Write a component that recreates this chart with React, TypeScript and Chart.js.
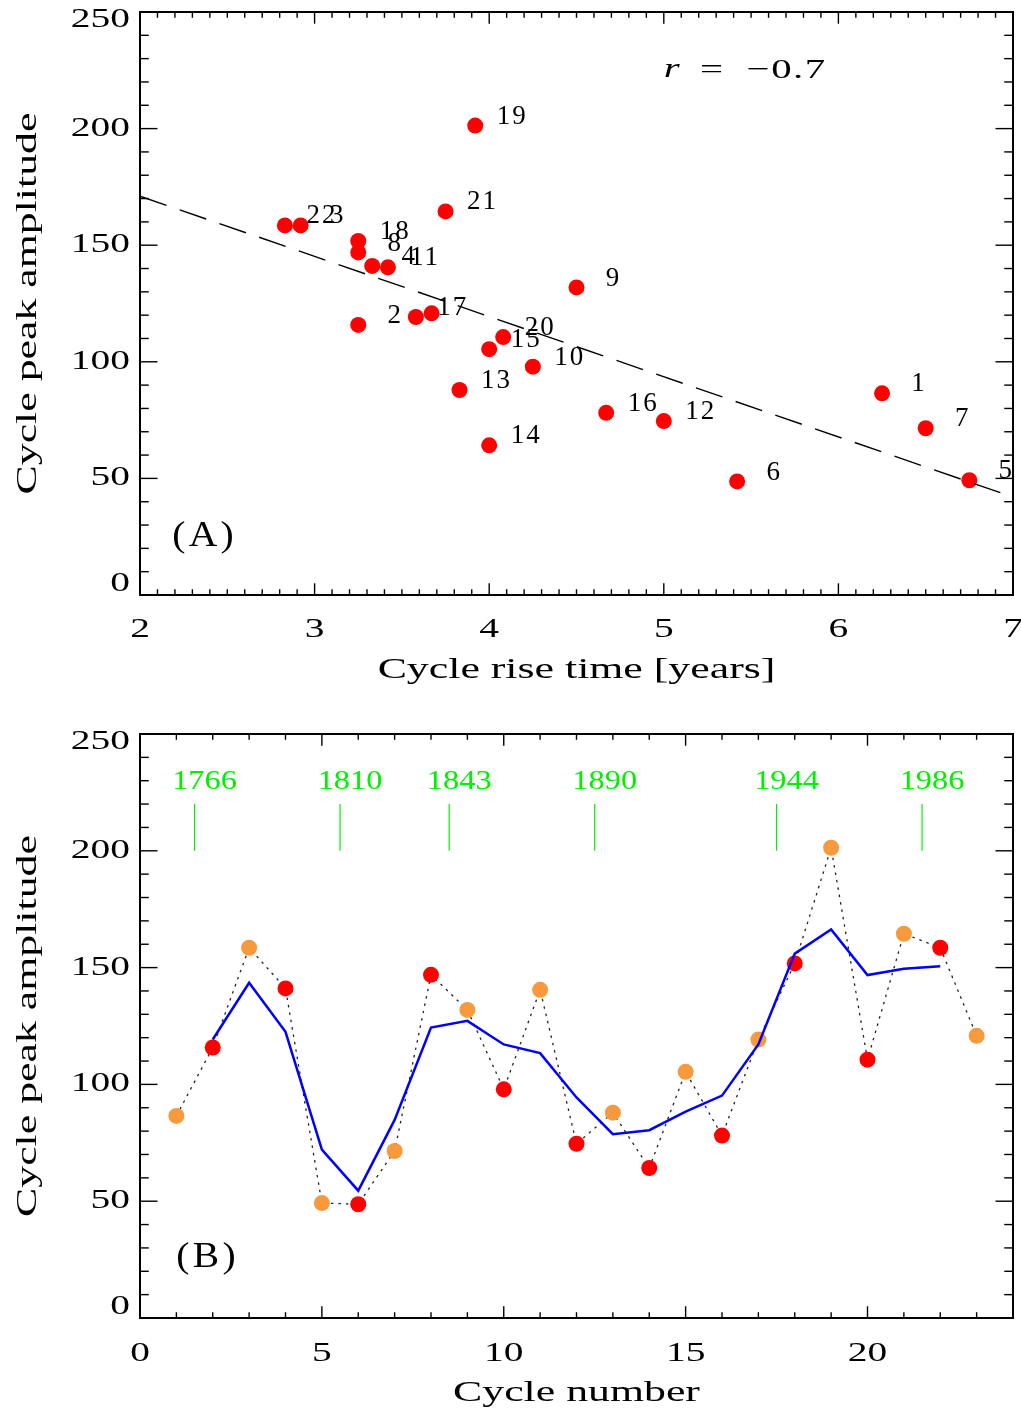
import React, { useEffect, useRef } from 'react';
import { Chart, registerables } from 'chart.js';

Chart.register(...registerables);

// ---------- data ----------
const cycles = [1, 2, 3, 4, 5, 6, 7, 8, 9, 10, 11, 12, 13, 14, 15, 16, 17, 18, 19, 20, 21, 22, 23];
const riseTime = [6.25, 3.25, 2.92, 3.33, 6.75, 5.42, 6.5, 3.25, 4.5, 4.25, 3.42, 5.0, 3.83, 4.0, 4.0, 4.67, 3.58, 3.25, 3.92, 4.08, 3.75, 2.83, 3.67];
const peakAmplitude = [86.5, 115.8, 158.5, 141.1, 49.2, 48.7, 71.5, 146.9, 131.9, 97.9, 140.5, 74.6, 87.9, 64.2, 105.4, 78.1, 119.2, 151.8, 201.3, 110.6, 164.5, 158.5, 120.8];
const pointLabels = ['1', '2', '3', '4', '5', '6', '7', '8', '9', '10', '11', '12', '13', '14', '15', '16', '17', '18', '19', '20', '21', '22', ''];
const fitLineX = [2, 7];
const fitLineY = [171, 42];
const correlationText = '−0.7';
const smoothCycles = [2, 3, 4, 5, 6, 7, 8, 9, 10, 11, 12, 13, 14, 15, 16, 17, 18, 19, 20, 21, 22];
const smoothAmplitude = [119.2, 143.5, 122.5, 72.1, 54.5, 84.8, 124.3, 127.2, 117.1, 113.4, 94.4, 78.7, 80.4, 88.3, 95.2, 117.1, 156.0, 166.3, 146.8, 149.5, 150.6];
const markerCycles = [1.5, 5.5, 8.5, 12.5, 17.5, 21.5];
const markerYears = ['1766', '1810', '1843', '1890', '1944', '1986'];
const topXTicks = [2, 3, 4, 5, 6, 7];
const yTicks = [0, 50, 100, 150, 200, 250];
const bottomXTicks = [0, 5, 10, 15, 20];

// ---------- styles ----------
const FONT = "'Liberation Serif', 'Times New Roman', serif";
const RED = '#ff0000';
const ORANGE = '#f7993d';
const BLUE = '#0000ff';
const GREEN = '#00f000';
const AXIS_STRETCH = 1.46;

// Horizontally stretched text (the reference uses wide glyphs)
const stretchPlugin = {
  id: 'stretch',
  beforeInit(chart: any) {
    const ctx = chart.ctx;
    if (!ctx.__origFillText) {
      const orig = ctx.fillText;
      ctx.__origFillText = orig;
      ctx.__sx = 1;
      ctx.fillText = function (text: string, x: number, y: number) {
        const sx = this.__sx || 1;
        this.save();
        this.translate(x, y);
        this.scale(sx, 1);
        orig.call(this, text, 0, 0);
        this.restore();
      };
    }
  },
  beforeDraw(chart: any) {
    const ctx = chart.ctx;
    ctx.__sx = AXIS_STRETCH;
    ctx.letterSpacing = '0px';
    // nudge the extreme y labels inside the frame, as in the reference
    const ys = chart.scales.y;
    const items = ys.getLabelItems(chart.chartArea);
    items.forEach((it: any) => {
      const tr = (it.options && it.options.translation) || it.translation;
      if (!tr) return;
      if (it.label === '250') tr[1] += 8;
      if (it.label === '0') tr[1] -= 11;
    });
  },
};

function framePlugin(xMinor: number, xMajor: number, yMinor: number, yMajor: number) {
  return {
    id: 'frame',
    afterDraw(chart: any) {
      const { ctx, chartArea: a, scales } = chart;
      const x = scales.x;
      const y = scales.y;
      ctx.save();
      ctx.strokeStyle = '#000';
      ctx.lineWidth = 1.4;
      const seg = (x1: number, y1: number, x2: number, y2: number) => {
        ctx.beginPath(); ctx.moveTo(x1, y1); ctx.lineTo(x2, y2); ctx.stroke();
      };
      const nx = Math.round((x.max - x.min) / xMinor);
      for (let i = 0; i <= nx; i++) {
        const v = x.min + i * xMinor;
        const r = v / xMajor;
        const major = Math.abs(r - Math.round(r)) < 1e-6;
        const len = major ? 11.7 : 5.8;
        const px = x.getPixelForValue(v);
        seg(px, a.bottom, px, a.bottom - len);
        seg(px, a.top, px, a.top + len);
      }
      const ny = Math.round((y.max - y.min) / yMinor);
      for (let i = 0; i <= ny; i++) {
        const v = y.min + i * yMinor;
        const r = v / yMajor;
        const major = Math.abs(r - Math.round(r)) < 1e-6;
        const len = major ? 17.5 : 8.75;
        const py = y.getPixelForValue(v);
        seg(a.left, py, a.left + len, py);
        seg(a.right, py, a.right - len, py);
      }
      ctx.lineWidth = 2;
      ctx.strokeRect(a.left, a.top, a.right - a.left, a.bottom - a.top);
      ctx.restore();
    },
  };
}

const topAnnotations = {
  id: 'topAnnotations',
  afterDatasetsDraw(chart: any) {
    const { ctx, scales } = chart;
    const x = scales.x;
    const y = scales.y;
    ctx.save();
    ctx.fillStyle = '#000';
    ctx.textBaseline = 'middle';
    ctx.textAlign = 'center';
    ctx.font = `27px ${FONT}`;
    ctx.letterSpacing = '2px';
    ctx.__sx = 1;
    for (let i = 0; i < cycles.length; i++) {
      if (!pointLabels[i]) continue;
      const px = x.getPixelForValue(riseTime[i]);
      const py = y.getPixelForValue(peakAmplitude[i]);
      ctx.fillText(pointLabels[i], px + 37, py - 9);
    }
    // r = -0.7
    const ax = x.getPixelForValue(5.4);
    const ay = y.getPixelForValue(225);
    ctx.__sx = AXIS_STRETCH;
    ctx.letterSpacing = '0px';
    ctx.textAlign = 'left';
    ctx.font = `italic 28px ${FONT}`;
    ctx.fillText('r', ax - 70, ay - 1);
    ctx.font = `28px ${FONT}`;
    ctx.textAlign = 'center';
    ctx.fillText('=', ax - 22, ay);
    ctx.textAlign = 'left';
    ctx.letterSpacing = '1px';
    ctx.fillText(correlationText, ax + 13, ay);
    // (A)
    ctx.__sx = 1.1;
    ctx.font = `36px ${FONT}`;
    ctx.letterSpacing = '3px';
    ctx.textAlign = 'center';
    ctx.fillText('(A)', x.getPixelForValue(2.37), y.getPixelForValue(24.9));
    ctx.__sx = AXIS_STRETCH;
    ctx.letterSpacing = '0px';
    ctx.restore();
  },
};

const bottomAnnotations = {
  id: 'bottomAnnotations',
  afterDatasetsDraw(chart: any) {
    const { ctx, scales } = chart;
    const x = scales.x;
    const y = scales.y;
    ctx.save();
    ctx.strokeStyle = GREEN;
    ctx.fillStyle = GREEN;
    ctx.lineWidth = 1.2;
    ctx.textAlign = 'center';
    ctx.textBaseline = 'middle';
    ctx.font = `27px ${FONT}`;
    ctx.letterSpacing = '0px';
    ctx.__sx = 1.2;
    for (let i = 0; i < markerCycles.length; i++) {
      const px = x.getPixelForValue(markerCycles[i]);
      ctx.beginPath();
      ctx.moveTo(px, y.getPixelForValue(220));
      ctx.lineTo(px, y.getPixelForValue(200));
      ctx.stroke();
      ctx.fillText(markerYears[i], px + 10, y.getPixelForValue(229.5));
    }
    ctx.fillStyle = '#000';
    ctx.font = `36px ${FONT}`;
    ctx.letterSpacing = '3px';
    ctx.__sx = 1.1;
    ctx.fillText('(B)', x.getPixelForValue(1.86), y.getPixelForValue(25.7));
    ctx.__sx = AXIS_STRETCH;
    ctx.letterSpacing = '0px';
    ctx.restore();
  },
};

function axisOptions(min: number, max: number, tickValues: number[], title: string, isX: boolean, fitSize: number, labelPad: number, titlePad: any) {
  return {
    type: 'linear',
    position: isX ? 'bottom' : 'left',
    min,
    max,
    afterBuildTicks: (scale: any) => {
      scale.ticks = tickValues.map((v) => ({ value: v }));
    },
    afterFit: (scale: any) => {
      if (isX) scale.height = fitSize; else scale.width = fitSize;
      scale.paddingLeft = 0;
      scale.paddingRight = 0;
      scale.paddingTop = 0;
      scale.paddingBottom = 0;
    },
    grid: { display: false, drawTicks: false },
    border: { display: false },
    ticks: {
      color: '#000',
      font: { family: FONT, size: 27 },
      padding: labelPad,
      maxRotation: 0,
      autoSkip: false,
      callback: (v: any) => String(v),
    },
    title: {
      display: true,
      text: title,
      color: '#000',
      font: { family: FONT, size: 30 },
      padding: titlePad,
    },
  };
}

export default function App() {
  const topRef = useRef<HTMLCanvasElement>(null);
  const botRef = useRef<HTMLCanvasElement>(null);

  useEffect(() => {
    const topChart = new Chart(topRef.current as HTMLCanvasElement, {
      type: 'scatter',
      data: {
        datasets: [
          {
            data: fitLineX.map((v, i) => ({ x: v, y: fitLineY[i] })),
            showLine: true,
            borderColor: '#000',
            borderWidth: 1.4,
            borderDash: [28, 14],
            pointRadius: 0,
            fill: false,
          },
          {
            data: riseTime.map((v, i) => ({ x: v, y: peakAmplitude[i] })),
            pointRadius: 8,
            pointBackgroundColor: RED,
            pointBorderWidth: 0,
            borderWidth: 0,
            showLine: false,
          },
        ],
      } as any,
      options: {
        responsive: false,
        animation: false,
        events: [],
        layout: { padding: { left: 0, right: 6, top: 12, bottom: 0 } },
        plugins: { legend: { display: false }, tooltip: { enabled: false } },
        scales: {
          x: axisOptions(2, 7, topXTicks, 'Cycle rise time [years]', true, 111, 19, { top: 0, bottom: 18 }),
          y: axisOptions(0, 250, yTicks, 'Cycle peak amplitude', false, 140, 10, { top: 10, bottom: 0 }),
        },
      } as any,
      plugins: [stretchPlugin, topAnnotations, framePlugin(0.1, 1, 10, 50)] as any,
    });

    const botChart = new Chart(botRef.current as HTMLCanvasElement, {
      type: 'scatter',
      data: {
        datasets: [
          {
            data: smoothCycles.map((c, i) => ({ x: c, y: smoothAmplitude[i] })),
            showLine: true,
            borderColor: BLUE,
            borderWidth: 2.5,
            pointRadius: 0,
            fill: false,
          },
          {
            data: cycles.map((c, i) => ({ x: c, y: peakAmplitude[i] })),
            pointRadius: 8,
            pointBackgroundColor: cycles.map((c) => (c % 2 === 1 ? ORANGE : RED)),
            pointBorderWidth: 0,
            borderWidth: 0,
            showLine: false,
          },
          {
            data: cycles.map((c, i) => ({ x: c, y: peakAmplitude[i] })),
            showLine: true,
            borderColor: '#222',
            borderWidth: 1.3,
            borderDash: [2.5, 5],
            pointRadius: 0,
            fill: false,
          },
        ],
      } as any,
      options: {
        responsive: false,
        animation: false,
        events: [],
        layout: { padding: { left: 0, right: 6, top: 28, bottom: 0 } },
        plugins: { legend: { display: false }, tooltip: { enabled: false } },
        scales: {
          x: axisOptions(0, 24, bottomXTicks, 'Cycle number', true, 94, 20, { top: 0, bottom: 1 }),
          y: axisOptions(0, 250, yTicks, 'Cycle peak amplitude', false, 140, 10, { top: 10, bottom: 0 }),
        },
      } as any,
      plugins: [stretchPlugin, bottomAnnotations, framePlugin(1, 5, 10, 50)] as any,
    });

    return () => {
      topChart.destroy();
      botChart.destroy();
    };
  }, []);

  return (
    <div style={{ position: 'absolute', left: 0, top: 0, width: 1021, height: 1412, background: '#fff' }}>
      <canvas ref={topRef} width={1021} height={706} style={{ display: 'block', width: 1021, height: 706 }} />
      <canvas ref={botRef} width={1021} height={706} style={{ display: 'block', width: 1021, height: 706 }} />
    </div>
  );
}
